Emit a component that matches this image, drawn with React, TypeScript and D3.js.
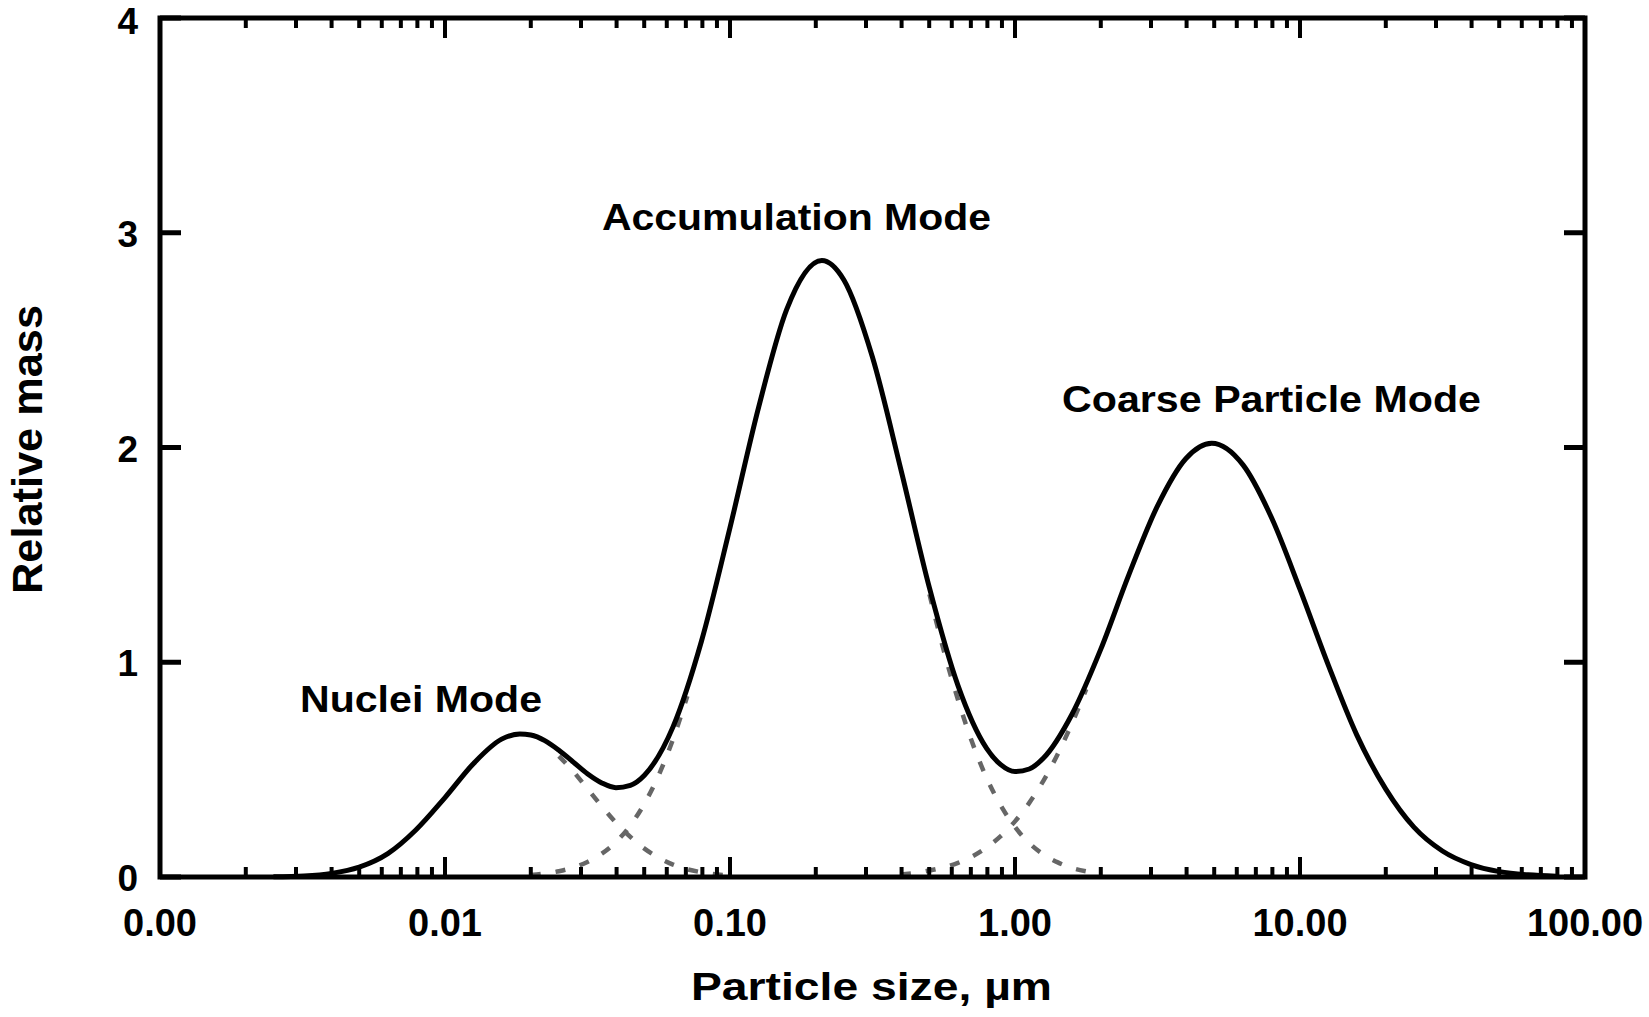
import React from 'react';
import * as d3 from 'd3';

// ---------- data ----------
const xTickValues = [0.001, 0.01, 0.1, 1, 10, 100];
const xTickLabels = ['0.00', '0.01', '0.10', '1.00', '10.00', '100.00'];
const yTickValues = [0, 1, 2, 3, 4];
const yTickLabels = ['0', '1', '2', '3', '4'];

// total (solid) curve: particle size (µm) and relative mass
const totalSize = [0.0025, 0.0032, 0.004, 0.005, 0.0063, 0.0079, 0.01, 0.0126, 0.0158, 0.0183, 0.02, 0.0224, 0.0251, 0.0282, 0.0316, 0.0355, 0.0398, 0.0447, 0.0501, 0.0631, 0.0794, 0.1, 0.126, 0.158, 0.21, 0.251, 0.316, 0.398, 0.501, 0.631, 0.794, 0.891, 1.0, 1.122, 1.259, 1.585, 2.0, 2.51, 3.16, 3.98, 4.9, 6.31, 7.94, 10, 12.6, 15.8, 20, 25.1, 31.6, 39.8, 50.1, 63.1, 79.4];
const totalMass = [0.001, 0.005, 0.017, 0.046, 0.109, 0.219, 0.37, 0.529, 0.642, 0.666, 0.661, 0.635, 0.59, 0.535, 0.481, 0.438, 0.416, 0.427, 0.474, 0.699, 1.098, 1.627, 2.187, 2.642, 2.871, 2.78, 2.421, 1.896, 1.346, 0.891, 0.6, 0.523, 0.491, 0.503, 0.554, 0.758, 1.061, 1.408, 1.727, 1.949, 2.02, 1.919, 1.674, 1.339, 0.983, 0.663, 0.409, 0.232, 0.121, 0.058, 0.025, 0.01, 0.004];

// individual modes (dashed) near the overlaps
const nucleiDashSize = [0.0251, 0.0282, 0.0316, 0.0355, 0.0398, 0.0447, 0.0501, 0.0562, 0.0631, 0.0708, 0.0794, 0.1];
const nucleiDashMass = [0.563, 0.491, 0.411, 0.329, 0.253, 0.187, 0.132, 0.09, 0.058, 0.036, 0.022, 0.007];
const accumLeftDashSize = [0.02, 0.0251, 0.0282, 0.0316, 0.0355, 0.0398, 0.0447, 0.0501, 0.0562, 0.0631, 0.0708];
const accumLeftDashMass = [0.009, 0.027, 0.044, 0.07, 0.109, 0.163, 0.24, 0.342, 0.474, 0.641, 0.842];
const accumRightDashSize = [0.501, 0.562, 0.631, 0.708, 0.794, 0.891, 1.0, 1.122, 1.259, 1.413, 1.585, 1.778];
const accumRightDashMass = [1.317, 1.056, 0.825, 0.626, 0.463, 0.333, 0.233, 0.158, 0.105, 0.068, 0.042, 0.026];
const coarseDashSize = [0.398, 0.501, 0.631, 0.708, 0.794, 0.891, 1.0, 1.122, 1.259, 1.413, 1.585, 1.778];
const coarseDashMass = [0.012, 0.03, 0.066, 0.096, 0.137, 0.19, 0.259, 0.345, 0.449, 0.573, 0.716, 0.875];

const modeLabels = ['Nuclei Mode', 'Accumulation Mode', 'Coarse Particle Mode'];
const xTitle = 'Particle size, µm';
const yTitle = 'Relative mass';

// ---------- layout ----------
const W = 1649;
const H = 1017;
const L = 160, R = 1585, T = 18, B = 877;
const FONT = '"Liberation Sans", Arial, Helvetica, sans-serif';

const zip = (a: number[], b: number[]) => a.map((v, i) => [v, b[i]] as [number, number]);

export default function App() {
  const x = d3.scaleLog().domain([0.001, 100]).range([L, R]);
  const y = d3.scaleLinear().domain([0, 4]).range([B, T]);

  const line = d3
    .line<[number, number]>()
    .x((d) => x(d[0]))
    .y((d) => y(d[1]))
    .curve(d3.curveMonotoneX);

  const minorTicks: number[] = [];
  for (let e = -3; e < 2; e++) {
    for (let k = 2; k <= 9; k++) minorTicks.push(k * Math.pow(10, e));
  }

  const dashed = [
    zip(nucleiDashSize, nucleiDashMass),
    zip(accumLeftDashSize, accumLeftDashMass),
    zip(accumRightDashSize, accumRightDashMass),
    zip(coarseDashSize, coarseDashMass),
  ];

  // label layout: [left x, baseline y, width]
  const labelLayout: [number, number, number][] = [
    [300, 712, 242],
    [602, 230, 389],
    [1062, 412, 419],
  ];

  return (
    <div style={{ position: 'absolute', left: 0, top: 0 }}>
      <svg width={W} height={H} style={{ display: 'block', background: '#fff' }}>
        <rect x={0} y={0} width={W} height={H} fill="#fff" />

        {/* dashed component modes */}
        {dashed.map((pts, i) => (
          <path
            key={'d' + i}
            d={line(pts) || ''}
            fill="none"
            stroke="#666"
            strokeWidth={4.5}
            strokeDasharray="10 15"
          />
        ))}

        {/* total curve */}
        <path
          d={line(zip(totalSize, totalMass)) || ''}
          fill="none"
          stroke="#000"
          strokeWidth={5}
          strokeLinejoin="round"
        />

        {/* minor x ticks, bottom and top */}
        {minorTicks.map((t, i) => (
          <g key={'m' + i}>
            <line x1={x(t)} x2={x(t)} y1={B} y2={B - 10} stroke="#000" strokeWidth={4} />
            <line x1={x(t)} x2={x(t)} y1={T} y2={T + 10} stroke="#000" strokeWidth={4} />
          </g>
        ))}
        {/* major x ticks */}
        {xTickValues.map((t, i) => (
          <g key={'M' + i}>
            <line x1={x(t)} x2={x(t)} y1={B} y2={B - 20} stroke="#000" strokeWidth={4} />
            <line x1={x(t)} x2={x(t)} y1={T} y2={T + 20} stroke="#000" strokeWidth={4} />
          </g>
        ))}
        {/* y ticks left and right */}
        {yTickValues.map((t, i) => (
          <g key={'y' + i}>
            <line x1={L} x2={L + 21} y1={y(t)} y2={y(t)} stroke="#000" strokeWidth={5} />
            <line x1={R} x2={R - 21} y1={y(t)} y2={y(t)} stroke="#000" strokeWidth={5} />
          </g>
        ))}

        {/* frame */}
        <rect x={L} y={T} width={R - L} height={B - T} fill="none" stroke="#000" strokeWidth={5} />

        {/* x tick labels */}
        {xTickValues.map((t, i) => (
          <text
            key={'xl' + i}
            x={x(t)}
            y={936}
            textAnchor="middle"
            fontFamily={FONT}
            fontWeight="bold"
            fontSize={38}
            fill="#000"
          >
            {xTickLabels[i]}
          </text>
        ))}
        {/* y tick labels */}
        {yTickValues.map((t, i) => (
          <text
            key={'yl' + i}
            x={138}
            y={Math.max(y(t) + 14, 34)}
            textAnchor="end"
            fontFamily={FONT}
            fontWeight="bold"
            fontSize={37}
            fill="#000"
          >
            {yTickLabels[i]}
          </text>
        ))}

        {/* mode labels */}
        {modeLabels.map((s, i) => (
          <text
            key={'ml' + i}
            x={labelLayout[i][0]}
            y={labelLayout[i][1]}
            fontFamily={FONT}
            fontWeight="bold"
            fontSize={37}
            textLength={labelLayout[i][2]}
            lengthAdjust="spacingAndGlyphs"
            fill="#000"
          >
            {s}
          </text>
        ))}

        {/* axis titles */}
        <text
          x={691}
          y={1000}
          fontFamily={FONT}
          fontWeight="bold"
          fontSize={38}
          textLength={361}
          lengthAdjust="spacingAndGlyphs"
          fill="#000"
        >
          {xTitle}
        </text>
        <text
          transform={`translate(42,594) rotate(-90)`}
          x={0}
          y={0}
          fontFamily={FONT}
          fontWeight="bold"
          fontSize={42}
          textLength={289}
          lengthAdjust="spacingAndGlyphs"
          fill="#000"
        >
          {yTitle}
        </text>
      </svg>
    </div>
  );
}
